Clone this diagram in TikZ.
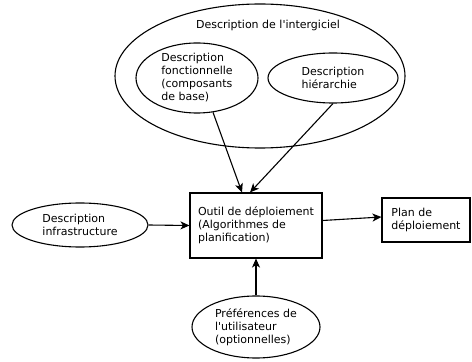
\documentclass[tikz,border=0pt]{standalone}
\usepackage{fontspec}
\setmainfont{DejaVu Sans}
\usetikzlibrary{arrows.meta,shapes.geometric}

\tikzset{
  descr/.style={draw, line width=1.1pt, ellipse, inner sep=0pt, align=left},
  outilbox/.style={draw, line width=1.1pt, rectangle, inner sep=0pt, align=left},
}

\begin{document}
\begin{tikzpicture}[x=1pt, y=1pt, font=\fontsize{11}{13}\selectfont,
        >={Stealth[length=9pt,width=8pt,inset=2.5pt]}]
        \useasboundingbox (0,0) rectangle (472,362);

        \node[descr, minimum width=290, minimum height=144] (mw) at (260,286) {};
        \node (mwtitle) at (268,337) {Description de l\textquotesingle intergiciel};
        \node[descr, minimum width=122, minimum height=70] (fonct) at (197,284)
            {Description\\fonctionnelle\\(composants\\de base)};
        \node[descr, minimum width=130, minimum height=50] (hier) at (333,284)
            {Description\\hiérarchie};

        \node[outilbox, minimum width=132, minimum height=65] (outil) at (256,136.5)
            {Outil de déploiement\\(Algorithmes de\\planification)};
        \node[outilbox, minimum width=88, minimum height=44] (plan) at (426,142)
            {Plan de\\déploiement};
        \node[descr, minimum width=136, minimum height=44] (infra) at (80,137)
            {Description\\infrastructure};
        \node[descr, minimum width=128, minimum height=62] (pref) at (256,35)
            {Préférences de\\l\textquotesingle utilisateur\\(optionnelles)};

        \draw[->, line width=1.1pt] (fonct.-65) -- ([xshift=-14pt]outil.north);
        \draw[->, line width=1.1pt] (hier.south) -- ([xshift=-6pt]outil.north);
        \draw[->, line width=1.1pt] (infra.east) -- (outil.west);
        \draw[->, line width=1.1pt] ([yshift=5pt]outil.east) -- ([yshift=3pt]plan.west);
        \draw[->, line width=1.1pt] (pref.north) -- (outil.south);
    \end{tikzpicture}
\end{document}
